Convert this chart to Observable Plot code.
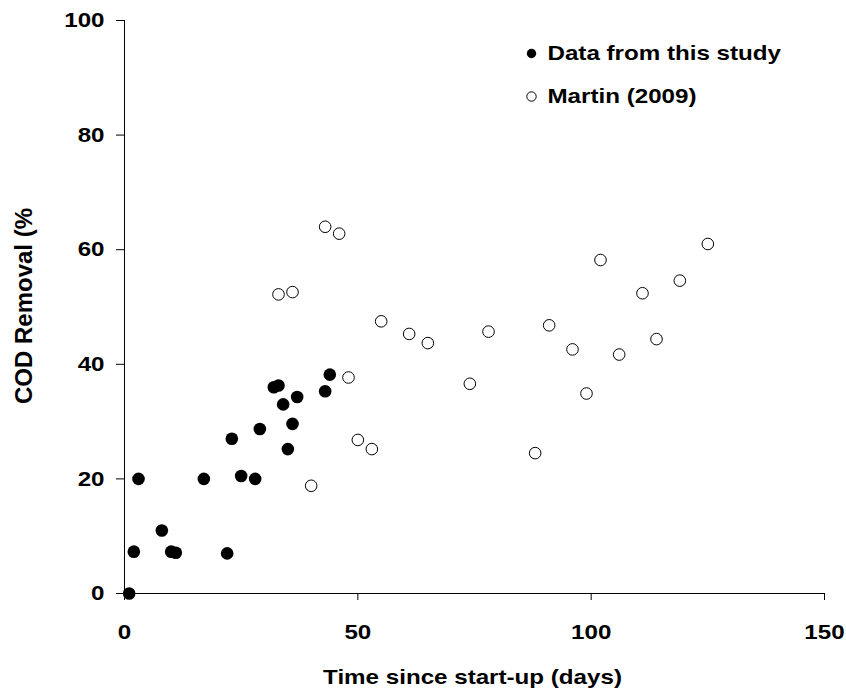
<!DOCTYPE html>
<html>
<head>
<meta charset="utf-8">
<script src="https://cdn.jsdelivr.net/npm/d3@7"></script>
<script src="https://cdn.jsdelivr.net/npm/@observablehq/plot@0.6"></script>
<style>
  html, body { margin: 0; padding: 0; background: #fff; }
  #chart svg { font-family: "Liberation Sans", Arial, sans-serif; font-weight: bold; }
</style>
</head>
<body>
<div id="chart"></div>
<script>
// Data from this study (filled circles)
const studyDays = [1, 2, 3, 8, 10, 11, 17, 22, 23, 25, 28, 29, 32, 33, 34, 35, 36, 37, 43, 44];
const studyCOD  = [0, 7.3, 20, 11, 7.3, 7.1, 20, 7, 27, 20.5, 20, 28.7, 36, 36.3, 33, 25.2, 29.6, 34.3, 35.3, 38.2];

// Martin (2009) (open circles)
const martinDays = [33, 36, 40, 43, 46, 48, 50, 53, 55, 61, 65, 74, 78, 88, 91, 96, 99, 102, 106, 111, 114, 119, 125];
const martinCOD  = [52.2, 52.6, 18.8, 64, 62.8, 37.7, 26.8, 25.2, 47.5, 45.3, 43.7, 36.6, 45.7, 24.5, 46.8, 42.6, 34.9, 58.2, 41.7, 52.4, 44.4, 54.6, 61];

const xTicks = [0, 50, 100, 150];
const yTicks = [0, 20, 40, 60, 80, 100];
const legendLabels = ["Data from this study", "Martin (2009)"];
const xTitle = "Time since start-up (days)";
const yTitle = "COD Removal (%";

const study = studyDays.map((d, i) => ({day: d, cod: studyCOD[i]}));
const martin = martinDays.map((d, i) => ({day: d, cod: martinCOD[i]}));

const fs = 21;
const stretch = 1.15;

const chart = Plot.plot({
  width: 846,
  height: 693,
  marginLeft: 124,
  marginRight: 22,
  marginTop: 20,
  marginBottom: 100,
  style: {fontFamily: "'Liberation Sans', Arial, sans-serif", fontWeight: "bold", background: "#fff", color: "#000", overflow: "visible"},
  x: {domain: [0, 150]},
  y: {domain: [0, 100]},
  marks: [
    Plot.ruleX([0], {stroke: "#000", strokeWidth: 1}),
    Plot.ruleY([0], {stroke: "#000", strokeWidth: 1}),
    Plot.axisX({ticks: xTicks, tickSize: 7, tickPadding: 24, fontSize: fs, fontWeight: "bold", label: null, stroke: "#000"}),
    Plot.axisY({ticks: yTicks, tickSize: 8, tickPadding: 12, fontSize: fs, fontWeight: "bold", label: null, stroke: "#000"}),
    Plot.dot(martin, {x: "day", y: "cod", r: 5.8, fill: "#fff", stroke: "#000", strokeWidth: 1}),
    Plot.dot(study, {x: "day", y: "cod", r: 6.3, fill: "#000", stroke: "none"}),
    // legend
    Plot.dot([legendLabels[0]], {frameAnchor: "top-left", dx: 407, dy: 33, r: 4.7, fill: "#000"}),
    Plot.dot([legendLabels[1]], {frameAnchor: "top-left", dx: 407, dy: 76, r: 4.7, fill: "#fff", stroke: "#000", strokeWidth: 1}),
    Plot.text([legendLabels[0]], {text: d => d, frameAnchor: "top-left", dx: 423, dy: 33, textAnchor: "start", lineAnchor: "middle", fontSize: fs, fontWeight: "bold", fill: "#000"}),
    Plot.text([legendLabels[1]], {text: d => d, frameAnchor: "top-left", dx: 423, dy: 76, textAnchor: "start", lineAnchor: "middle", fontSize: fs, fontWeight: "bold", fill: "#000"}),
    // axis titles
    Plot.text([xTitle], {text: d => d, frameAnchor: "bottom", dx: -2, dy: 84, lineAnchor: "middle", fontSize: fs, fontWeight: "bold", fill: "#000"}),
    Plot.text([yTitle], {text: d => d, frameAnchor: "left", dx: -100, dy: 97, rotate: -90, textAnchor: "start", lineAnchor: "middle", fontSize: 24, fontWeight: "bold", fill: "#000"})
  ]
});
document.getElementById("chart").appendChild(chart);

// widen glyphs horizontally to match the reference's wide bold lettering
chart.querySelectorAll("text").forEach(t => {
  if (t.textContent === yTitle) return;
  const L = t.getComputedTextLength();
  if (L > 0) {
    t.setAttribute("textLength", (L * stretch).toFixed(2));
    t.setAttribute("lengthAdjust", "spacingAndGlyphs");
  }
});
</script>
</body>
</html>
